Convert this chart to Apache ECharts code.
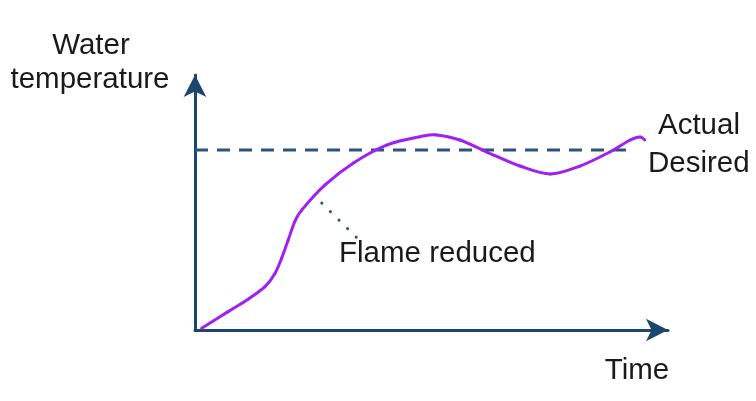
<!DOCTYPE html>
<html><head><meta charset="utf-8">
<script src="https://cdn.jsdelivr.net/npm/echarts@6/dist/echarts.min.js"></script>
<style>html,body{margin:0;padding:0;background:#fff}#c{width:756px;height:401px}</style>
</head><body><div id="c"></div>
<script>
// Normalized time (0-100) and temperature (0-100)
const actualX = [1.4, 7.0, 11.3, 14.8, 16.9, 18.3, 19.7, 21.1, 22.6, 27.5, 33.5, 40.5, 47.6, 51.1, 56.0, 61.7, 68.7, 75.1, 81.4, 87.7, 92.0, 94.1, 95.1];
const actualY = [0.7, 7.2, 12.2, 17.0, 22.2, 28.1, 35.3, 42.5, 47.1, 56.9, 65.5, 72.5, 75.8, 76.5, 74.5, 69.8, 64.3, 61.2, 64.3, 69.8, 74.5, 75.7, 74.5];
const desiredX = [0, 93.0];
const desiredY = [70.6, 70.6];
const flameX = [26.8, 34.7];
const flameY = [49.8, 35.3];
const labels = { yName: ['Water', 'temperature'], xName: 'Time', actual: 'Actual', desired: 'Desired', flame: 'Flame reduced' };

const zip = (a, b) => a.map((v, i) => [v, b[i]]);
const chart = echarts.init(document.getElementById('c'), null, { renderer: 'canvas' });
const navy = '#1d466e';
const txt = { fontFamily: 'Liberation Sans, Arial, sans-serif', fontSize: 29.5, fill: '#1a1a1a' };
const actualData = zip(actualX, actualY);
chart.setOption({
  animation: false,
  grid: { left: 195, right: 88, top: 75, bottom: 71 },
  xAxis: {
    type: 'value', min: 0, max: 100,
    axisLine: { show: true, onZero: false, lineStyle: { color: navy, width: 3 }, symbol: ['none', 'arrow'], symbolSize: [17, 22] },
    axisTick: { show: false }, axisLabel: { show: false }, splitLine: { show: false }
  },
  yAxis: {
    type: 'value', min: 0, max: 100,
    axisLine: { show: true, onZero: false, lineStyle: { color: navy, width: 3 }, symbol: ['none', 'arrow'], symbolSize: [17, 22] },
    axisTick: { show: false }, axisLabel: { show: false }, splitLine: { show: false }
  },
  series: [
    { type: 'line', data: zip(desiredX, desiredY), showSymbol: false, lineStyle: { color: '#2b557d', width: 3, type: [13, 9] }, z: 2 },
    {
      type: 'custom', data: actualData, z: 3, clip: false,
      renderItem: function (params, api) {
        if (params.dataIndex !== 0) return null;
        const p = actualData.map(d => api.coord(d));
        const n = p.length;
        const children = [];
        for (let i = 0; i < n - 1; i++) {
          const p0 = p[Math.max(i - 1, 0)], p1 = p[i], p2 = p[i + 1], p3 = p[Math.min(i + 2, n - 1)];
          children.push({
            type: 'bezierCurve',
            shape: {
              x1: p1[0], y1: p1[1], x2: p2[0], y2: p2[1],
              cpx1: p1[0] + (p2[0] - p0[0]) / 6, cpy1: p1[1] + (p2[1] - p0[1]) / 6,
              cpx2: p2[0] - (p3[0] - p1[0]) / 6, cpy2: p2[1] - (p3[1] - p1[1]) / 6
            },
            style: { stroke: '#a020f0', lineWidth: 3, fill: null, lineCap: 'round' }
          });
        }
        return { type: 'group', children: children };
      }
    },
    { type: 'line', data: zip(flameX, flameY), showSymbol: false, lineStyle: { color: '#2b557d', width: 3, type: [0.1, 12], cap: 'round' }, z: 2 }
  ],
  graphic: [
    { type: 'text', style: Object.assign({ text: labels.yName[0], x: 91, y: 46, align: 'center', verticalAlign: 'middle' }, txt) },
    { type: 'text', style: Object.assign({ text: labels.yName[1], x: 90, y: 80, align: 'center', verticalAlign: 'middle' }, txt) },
    { type: 'text', style: Object.assign({ text: labels.xName, x: 637, y: 371, align: 'center', verticalAlign: 'middle' }, txt) },
    { type: 'text', style: Object.assign({ text: labels.actual, x: 658, y: 126, align: 'left', verticalAlign: 'middle' }, txt) },
    { type: 'text', style: Object.assign({ text: labels.desired, x: 648, y: 164, align: 'left', verticalAlign: 'middle' }, txt) },
    { type: 'text', style: Object.assign({ text: labels.flame, x: 339, y: 254, align: 'left', verticalAlign: 'middle' }, txt) }
  ]
});
</script></body></html>
